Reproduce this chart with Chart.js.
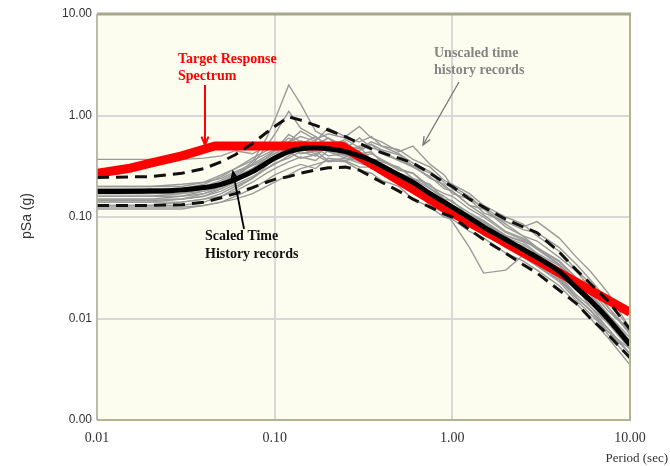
<!DOCTYPE html>
<html>
<head>
<meta charset="utf-8">
<script src="https://cdn.jsdelivr.net/npm/chart.js@4.4.1/dist/chart.umd.min.js"></script>
<style>
  html, body { margin: 0; padding: 0; background: #fff; }
  #wrap { width: 670px; height: 466px; }
</style>
</head>
<body>
<div id="wrap"><canvas id="chart" width="670" height="466"></canvas></div>
<script>
// periods (sec) used by the record spectra
const periods = [0.01,0.02,0.03,0.04,0.05,0.06,0.075,0.09,0.1,0.12,0.14,0.17,0.2,0.25,0.3,0.35,0.4,0.5,0.6,0.75,0.9,1.0,1.25,1.5,2,2.5,3,4,5,6,7.5,10];

// unscaled time history records (pSa, g)
const rec1  = [0.16,0.16,0.17,0.19,0.22,0.26,0.35,0.6,0.9,2.0,1.3,0.7,0.6,0.45,0.5,0.36,0.33,0.24,0.22,0.15,0.13,0.11,0.09,0.066,0.052,0.043,0.033,0.023,0.015,0.011,0.0075,0.005];
const rec2  = [0.37,0.37,0.37,0.38,0.4,0.45,0.42,0.5,0.46,0.6,0.52,0.62,0.5,0.58,0.48,0.52,0.42,0.36,0.31,0.25,0.19,0.18,0.13,0.12,0.08,0.065,0.05,0.037,0.025,0.019,0.012,0.0075];
const rec3  = [0.14,0.14,0.15,0.17,0.2,0.25,0.33,0.5,0.65,1.1,0.75,0.62,0.5,0.55,0.42,0.44,0.35,0.31,0.24,0.21,0.15,0.145,0.1,0.085,0.058,0.052,0.038,0.027,0.017,0.013,0.008,0.0045];
const rec4  = [0.13,0.13,0.14,0.15,0.17,0.2,0.24,0.3,0.33,0.4,0.47,0.42,0.5,0.4,0.36,0.3,0.28,0.21,0.19,0.13,0.11,0.09,0.05,0.028,0.03,0.042,0.04,0.026,0.016,0.012,0.007,0.004];
const rec5  = [0.15,0.15,0.15,0.16,0.18,0.21,0.25,0.3,0.34,0.38,0.44,0.4,0.5,0.47,0.6,0.48,0.45,0.36,0.32,0.24,0.21,0.17,0.15,0.11,0.09,0.08,0.09,0.062,0.04,0.029,0.018,0.008];
const rec6  = [0.12,0.12,0.12,0.13,0.14,0.16,0.19,0.23,0.26,0.3,0.33,0.3,0.38,0.36,0.39,0.33,0.32,0.25,0.23,0.16,0.14,0.12,0.095,0.072,0.056,0.044,0.039,0.026,0.02,0.013,0.009,0.0055];
const rec7  = [0.18,0.18,0.19,0.21,0.25,0.3,0.38,0.45,0.5,0.55,0.62,0.56,0.75,0.62,0.78,0.6,0.55,0.44,0.5,0.33,0.26,0.2,0.16,0.12,0.085,0.065,0.058,0.04,0.029,0.02,0.013,0.007];
const rec8  = [0.2,0.2,0.2,0.22,0.24,0.28,0.33,0.4,0.45,0.5,0.46,0.48,0.4,0.42,0.35,0.36,0.29,0.25,0.19,0.16,0.12,0.115,0.082,0.072,0.05,0.044,0.034,0.025,0.016,0.012,0.0075,0.0045];
const rec9  = [0.16,0.16,0.16,0.17,0.19,0.22,0.28,0.35,0.4,0.45,0.56,0.5,0.6,0.48,0.45,0.52,0.46,0.41,0.32,0.27,0.2,0.18,0.13,0.105,0.072,0.062,0.05,0.034,0.023,0.017,0.01,0.006];
const rec10 = [0.14,0.14,0.14,0.15,0.16,0.19,0.24,0.32,0.38,0.5,0.42,0.45,0.36,0.35,0.29,0.27,0.23,0.2,0.15,0.125,0.1,0.095,0.072,0.062,0.044,0.037,0.03,0.021,0.014,0.01,0.0065,0.0035];
const rec11 = [0.17,0.17,0.18,0.19,0.21,0.25,0.3,0.38,0.42,0.55,0.7,0.58,0.66,0.6,0.55,0.62,0.5,0.46,0.37,0.31,0.23,0.21,0.17,0.13,0.1,0.085,0.065,0.046,0.03,0.022,0.013,0.0075];
const rec12 = [0.13,0.13,0.13,0.14,0.16,0.18,0.22,0.27,0.3,0.35,0.39,0.36,0.45,0.4,0.41,0.34,0.33,0.27,0.23,0.17,0.145,0.13,0.1,0.088,0.063,0.054,0.043,0.031,0.02,0.015,0.01,0.0055];
const rec13 = [0.19,0.19,0.19,0.2,0.23,0.27,0.32,0.38,0.42,0.48,0.53,0.46,0.5,0.4,0.44,0.37,0.36,0.29,0.27,0.19,0.16,0.14,0.11,0.092,0.066,0.057,0.044,0.033,0.022,0.016,0.011,0.006];
const rec14 = [0.15,0.15,0.16,0.18,0.2,0.24,0.3,0.36,0.4,0.43,0.38,0.41,0.35,0.36,0.31,0.31,0.27,0.23,0.18,0.155,0.12,0.11,0.092,0.073,0.061,0.049,0.043,0.029,0.021,0.014,0.009,0.005];
const rec15 = [0.125,0.125,0.125,0.13,0.14,0.15,0.17,0.2,0.22,0.26,0.3,0.33,0.36,0.38,0.34,0.31,0.27,0.22,0.2,0.15,0.12,0.105,0.08,0.07,0.05,0.04,0.033,0.024,0.016,0.012,0.008,0.0045];
const rec16 = [0.17,0.17,0.17,0.18,0.2,0.23,0.27,0.33,0.36,0.42,0.5,0.44,0.52,0.46,0.4,0.42,0.37,0.3,0.27,0.2,0.17,0.16,0.12,0.1,0.07,0.06,0.048,0.034,0.024,0.017,0.011,0.0065];
const rec17 = [0.145,0.145,0.15,0.16,0.19,0.22,0.28,0.38,0.45,0.65,0.55,0.48,0.44,0.38,0.36,0.33,0.3,0.27,0.24,0.19,0.15,0.13,0.105,0.09,0.065,0.058,0.05,0.036,0.025,0.018,0.011,0.006];
const rec18 = [0.2,0.2,0.21,0.22,0.26,0.3,0.36,0.42,0.46,0.5,0.56,0.52,0.6,0.5,0.47,0.55,0.5,0.42,0.34,0.28,0.22,0.19,0.15,0.125,0.09,0.075,0.07,0.05,0.034,0.024,0.015,0.008];

// scaled records: mean and mean +/- one sigma
const scaledMean  = [0.178,0.18,0.185,0.195,0.21,0.235,0.28,0.34,0.38,0.44,0.47,0.48,0.47,0.44,0.4,0.36,0.32,0.26,0.22,0.17,0.14,0.125,0.098,0.08,0.06,0.048,0.04,0.029,0.02,0.015,0.01,0.0055];
const scaledUpper = [0.245,0.25,0.27,0.3,0.35,0.41,0.53,0.68,0.78,0.97,0.9,0.8,0.72,0.62,0.53,0.47,0.43,0.38,0.34,0.27,0.22,0.2,0.15,0.125,0.095,0.08,0.07,0.045,0.03,0.022,0.015,0.0078];
const scaledLower = [0.13,0.13,0.132,0.14,0.155,0.17,0.195,0.22,0.235,0.25,0.27,0.29,0.305,0.31,0.29,0.25,0.22,0.18,0.15,0.125,0.107,0.1,0.075,0.06,0.044,0.034,0.028,0.019,0.014,0.01,0.007,0.0041];

// target response spectrum
const targetPeriods = [0.01,0.015,0.02,0.03,0.046,0.24,1.0,10];
const targetSa      = [0.27,0.3,0.34,0.4,0.5,0.5,0.11,0.0115];

const xTicks = [0.01, 0.1, 1, 10];
const yTicks = [0.001, 0.01, 0.1, 1, 10];

function pts(xs, ys) { return xs.map((x, i) => ({ x: x, y: ys[i] })); }

const records = [rec1,rec2,rec3,rec4,rec5,rec6,rec7,rec8,rec9,rec10,rec11,rec12,rec13,rec14,rec15,rec16,rec17,rec18];
const datasets = [];
records.forEach(r => datasets.push({
  data: pts(periods, r), borderColor: '#9a9a9a', borderWidth: 1.4, order: 4
}));
datasets.push({ data: pts(targetPeriods, targetSa), borderColor: '#ff0000', borderWidth: 9, order: 3, borderJoinStyle: 'round' });
datasets.push({ data: pts(periods, scaledUpper), borderColor: '#111', borderWidth: 3, borderDash: [12, 7], order: 2 });
datasets.push({ data: pts(periods, scaledLower), borderColor: '#111', borderWidth: 3, borderDash: [12, 7], order: 2 });
datasets.push({ data: pts(periods, scaledMean), borderColor: '#000', borderWidth: 5, order: 1, cubicInterpolationMode: 'monotone' });

const fmt = v => (v < 0.005 ? '0.00' : Number(v).toFixed(2));

const decor = {
  id: 'decor',
  beforeDraw(chart) {
    const { ctx, chartArea: a } = chart;
    ctx.save();
    ctx.fillStyle = '#ffffff';
    ctx.fillRect(0, 0, chart.width, chart.height);
    ctx.fillStyle = '#fdfdef';
    ctx.fillRect(a.left, a.top, a.right - a.left, a.bottom - a.top);
    ctx.restore();
  },
  afterDraw(chart) {
    const { ctx, chartArea: a } = chart;
    ctx.save();
    // frame
    ctx.strokeStyle = '#b3b592';
    ctx.lineWidth = 2;
    ctx.beginPath();
    ctx.moveTo(a.left, a.bottom); ctx.lineTo(a.right, a.bottom); ctx.lineTo(a.right, a.top);
    ctx.stroke();
    ctx.strokeStyle = '#a6a88c';
    ctx.lineWidth = 3;
    ctx.beginPath(); ctx.moveTo(a.left, a.top); ctx.lineTo(a.right + 1, a.top); ctx.stroke();
    ctx.strokeStyle = '#b0b0a4';
    ctx.lineWidth = 1.5;
    ctx.beginPath(); ctx.moveTo(a.left, a.top); ctx.lineTo(a.left, a.bottom); ctx.stroke();

    // axis titles
    ctx.fillStyle = '#333';
    ctx.font = '13px "Liberation Serif"';
    ctx.textAlign = 'right';
    ctx.textBaseline = 'alphabetic';
    ctx.fillText('Period (sec)', 668, 462);
    ctx.save();
    ctx.translate(31, 216);
    ctx.rotate(-Math.PI / 2);
    ctx.textAlign = 'center';
    ctx.font = '14px "Liberation Sans"';
    ctx.fillText('pSa (g)', 0, 0);
    ctx.restore();

    // annotations
    ctx.textAlign = 'left';
    ctx.font = 'bold 14px "Liberation Serif"';
    ctx.fillStyle = '#ff0000';
    ctx.fillText('Target Response', 178, 63);
    ctx.fillText('Spectrum', 178, 80);
    ctx.fillStyle = '#858585';
    ctx.fillText('Unscaled time', 434, 57);
    ctx.fillText('history records', 434, 74);
    ctx.fillStyle = '#111';
    ctx.fillText('Scaled Time', 205, 240);
    ctx.fillText('History records', 205, 258);

    arrow(ctx, 205, 85, 205, 145, '#ff0000', 2);
    arrow(ctx, 459, 82, 423, 145, '#777', 1.3);
    arrow(ctx, 244, 229, 233, 172, '#000', 1.8);
    ctx.restore();
  }
};

function arrow(ctx, x1, y1, x2, y2, color, w) {
  const ang = Math.atan2(y2 - y1, x2 - x1);
  const h = 9;
  ctx.strokeStyle = color;
  ctx.lineWidth = w;
  ctx.beginPath();
  ctx.moveTo(x1, y1);
  ctx.lineTo(x2, y2);
  ctx.stroke();
  ctx.beginPath();
  ctx.moveTo(x2 - h * Math.cos(ang - 0.4), y2 - h * Math.sin(ang - 0.4));
  ctx.lineTo(x2, y2);
  ctx.lineTo(x2 - h * Math.cos(ang + 0.4), y2 - h * Math.sin(ang + 0.4));
  ctx.stroke();
}

new Chart(document.getElementById('chart'), {
  type: 'line',
  data: { datasets: datasets },
  options: {
    responsive: false,
    animation: false,
    events: [],
    layout: { padding: { top: 14, right: 40, left: 0, bottom: 0 } },
    elements: { point: { radius: 0 }, line: { tension: 0, fill: false } },
    plugins: { legend: { display: false }, tooltip: { enabled: false } },
    scales: {
      x: {
        type: 'logarithmic',
        min: 0.01, max: 10,
        afterBuildTicks: s => { s.ticks = xTicks.map(v => ({ value: v })); },
        afterFit: s => { s.height = 46; },
        ticks: {
          callback: v => fmt(v),
          color: '#333',
          font: { family: 'Liberation Serif', size: 14 },
          padding: 10, maxRotation: 0, autoSkip: false
        },
        grid: { color: '#d8d8d8', lineWidth: 2, drawTicks: false },
        border: { display: false }
      },
      y: {
        type: 'logarithmic',
        min: 0.001, max: 10,
        afterBuildTicks: s => { s.ticks = yTicks.map(v => ({ value: v })); },
        afterFit: s => { s.width = 97; },
        ticks: {
          callback: v => fmt(v),
          color: '#333',
          font: { family: 'Liberation Sans', size: 12 },
          padding: 5, autoSkip: false
        },
        grid: { color: '#d8d8d8', lineWidth: 2, drawTicks: false },
        border: { display: false }
      }
    }
  },
  plugins: [decor]
});
</script>
</body>
</html>
